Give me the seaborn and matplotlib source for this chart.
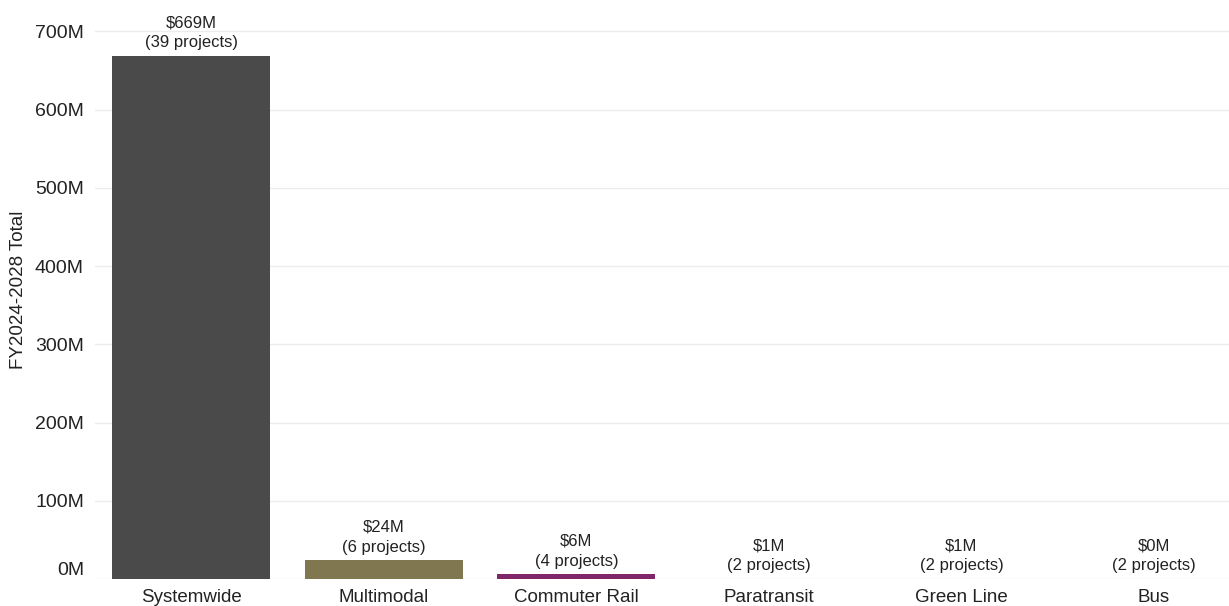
import matplotlib.pyplot as plt
import seaborn as sns
import pandas as pd

categories = ["Systemwide", "Multimodal", "Commuter Rail", "Paratransit", "Green Line", "Bus"]
totals_m = [669, 24, 6, 0.6, 0.6, 0.3]
projects = [39, 6, 4, 2, 2, 2]
labels_m = ["$669M", "$24M", "$6M", "$1M", "$1M", "$0M"]
colors = ["#4a4a4a", "#80764f", "#80276c", "#1f6fb5", "#00843d", "#ffc72c"]

df = pd.DataFrame({"Category": categories, "Total": [v * 1e6 for v in totals_m]})

sns.set_theme(style="whitegrid")
plt.rcParams["font.family"] = ["Liberation Sans", "DejaVu Sans"]

fig = plt.figure(figsize=(12.29, 6.06), dpi=100)
ax = fig.add_axes([95 / 1229, 27 / 606, 1 - 95 / 1229, 1 - 27 / 606])

sns.barplot(data=df, x="Category", y="Total", hue="Category",
            palette=dict(zip(categories, colors)), width=0.82,
            saturation=1, legend=False, linewidth=0, ax=ax)

for i, (val, lab, n) in enumerate(zip(df["Total"], labels_m, projects)):
    ax.annotate(f"{lab}\n({n} projects)", xy=(i, val), xytext=(0, 4),
                textcoords="offset points", ha="center", va="bottom",
                fontsize=12, color="#222222", linespacing=1.4)

ax.set_ylim(0, 740e6)
ax.set_xlim(-0.5, 5.39)
yt = [i * 100e6 for i in range(8)]
ax.set_yticks(yt)
ax.set_yticklabels([f"{int(t / 1e6)}M" for t in yt], fontsize=14, color="#222222")
ax.get_yticklabels()[0].set_verticalalignment("bottom")
ax.tick_params(axis="x", labelsize=13.5, colors="#222222", pad=7, length=0)
ax.tick_params(axis="y", length=0, pad=8)
ax.set_xlabel("")
ax.set_ylabel("FY2024-2028 Total", fontsize=13.5, color="#222222", labelpad=6)
ax.grid(axis="x", visible=False)
ax.grid(axis="y", color="#ececec", linewidth=1)
for s in ax.spines.values():
    s.set_visible(False)
ax.set_facecolor("white")

fig.savefig("out.png", dpi=100)
